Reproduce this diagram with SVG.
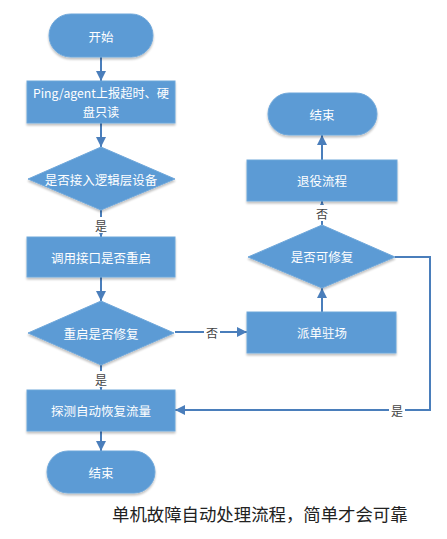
<svg xmlns="http://www.w3.org/2000/svg" width="447" height="539" viewBox="0 0 447 539">
<defs>
<marker id="ah" viewBox="0 0 10 10" refX="10" refY="5" markerWidth="10" markerHeight="10" markerUnits="userSpaceOnUse" orient="auto">
<path d="M0,0 L10,5 L0,10 z" fill="#4A7EBB"/>
</marker>
<filter id="sh" x="-10%" y="-10%" width="120%" height="130%">
<feGaussianBlur in="SourceAlpha" stdDeviation="1.2"/>
<feOffset dx="0" dy="1.5"/>
<feComponentTransfer><feFuncA type="linear" slope="0.25"/></feComponentTransfer>
<feMerge><feMergeNode/><feMergeNode in="SourceGraphic"/></feMerge>
</filter>
</defs>
<style>
.n{fill:#5B9BD5;stroke:#6FA7DA;stroke-width:1;filter:url(#sh)}
.t{font-family:"Noto Sans CJK SC","Liberation Sans",sans-serif;font-size:12.5px;fill:#FFFFFF;text-anchor:middle;dominant-baseline:central}
.s{font-size:12.2px}
.c{fill:none;stroke:#4A7EBB;stroke-width:2;marker-end:url(#ah)}
.l{font-family:"Noto Sans CJK SC","Liberation Sans",sans-serif;font-size:12px;fill:#444444;text-anchor:middle;dominant-baseline:central}
.lb{fill:#FFFFFF}
.cap{font-family:"Noto Sans CJK SC","Liberation Sans",sans-serif;font-size:17.4px;fill:#222222}
</style>
<rect width="447" height="539" fill="#FFFFFF"/>
<g id="connectors">
<path class="c" d="M101,57 L101,81"/>
<path class="c" d="M101,123 L101,147"/>
<path class="c" d="M101,210 L101,237"/>
<path class="c" d="M101,277 L101,301"/>
<path class="c" d="M101,365 L101,390"/>
<path class="c" d="M101,431 L101,451"/>
<path class="c" d="M175,332 L247,332"/>
<path class="c" d="M322,312 L322,288"/>
<path class="c" d="M322,225 L322,201"/>
<path class="c" d="M322,160 L322,135"/>
<path class="c" d="M395,257 L430,257 L430,410 L175,410"/>
<rect class="lb" x="94" y="217" width="14" height="16"/>
<text class="l" x="101" y="225">是</text>
<rect class="lb" x="94" y="371" width="14" height="16"/>
<text class="l" x="101" y="379">是</text>
<rect class="lb" x="204" y="324" width="16" height="16"/>
<text class="l" x="212" y="332">否</text>
<rect class="lb" x="315" y="205" width="14" height="16"/>
<text class="l" x="322" y="213">否</text>
<rect class="lb" x="389" y="402" width="16" height="16"/>
<text class="l" x="397" y="410">是</text>
</g>
<g id="start">
<rect class="n" x="49" y="14" width="104" height="43" rx="21.5"/>
<text class="t" x="101" y="36">开始</text>
</g>
<g id="report">
<rect class="n" x="27" y="81" width="148" height="42"/>
<text class="t s" x="101" y="92.5">Ping/agent上报超时、硬</text>
<text class="t s" x="101" y="111.5">盘只读</text>
</g>
<g id="logic">
<path class="n" d="M101,147 L175,179 L101,210 L28,179 Z"/>
<text class="t" x="101" y="179">是否接入逻辑层设备</text>
</g>
<g id="reboot">
<rect class="n" x="27" y="237" width="148" height="40"/>
<text class="t" x="101" y="257">调用接口是否重启</text>
</g>
<g id="fixed">
<path class="n" d="M101,301 L174,333 L101,365 L28,333 Z"/>
<text class="t" x="101" y="333">重启是否修复</text>
</g>
<g id="probe">
<rect class="n" x="27" y="390" width="148" height="41"/>
<text class="t" x="101" y="410">探测自动恢复流量</text>
</g>
<g id="end1">
<rect class="n" x="47" y="451" width="108" height="42" rx="21"/>
<text class="t" x="101" y="472">结束</text>
</g>
<g id="dispatch">
<rect class="n" x="247" y="312" width="149" height="41"/>
<text class="t" x="322" y="332">派单驻场</text>
</g>
<g id="repairable">
<path class="n" d="M322,225 L395,257 L322,288 L248,257 Z"/>
<text class="t" x="322" y="256">是否可修复</text>
</g>
<g id="retire">
<rect class="n" x="247" y="160" width="150" height="41"/>
<text class="t" x="322" y="180">退役流程</text>
</g>
<g id="end2">
<rect class="n" x="268" y="93" width="109" height="42" rx="21"/>
<text class="t" x="322" y="114">结束</text>
</g>
<text class="cap" x="112" y="521">单机故障自动处理流程，简单才会可靠</text>
</svg>
